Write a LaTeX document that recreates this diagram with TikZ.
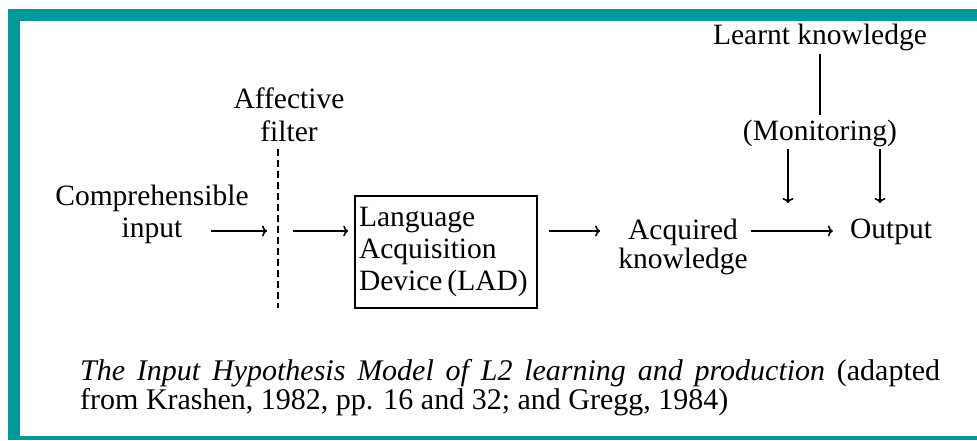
\documentclass[tikz,border=0pt]{standalone}
\usepackage{fontspec}
\setmainfont{Liberation Serif}
\usetikzlibrary{arrows.meta}
\definecolor{frameteal}{RGB}{0,153,153}
\begin{document}
\begin{tikzpicture}[x=1pt,y=-1pt,
  lbl/.style={inner sep=0pt, font=\fontsize{29.5}{32}\selectfont},
  caplbl/.style={inner sep=0pt, anchor=base west, font=\fontsize{30}{30}\selectfont},
  arr/.style={line width=1.6pt, -{To[length=5pt,width=11pt]}},
  conn/.style={line width=1.6pt},
  ]
\useasboundingbox (0,0) rectangle (977,440);
% teal frame
\fill[frameteal] (8,9) rectangle (977,21);
\fill[frameteal] (8,9) rectangle (20,440);
\fill[frameteal] (8,436) rectangle (977,440);

% nodes
\node[lbl, anchor=base] (learnt) at (820,44) {Learnt knowledge};
\node[lbl, anchor=base] (mon) at (820,140) {(Monitoring)};
\node[lbl, anchor=base] (out) at (891,238) {Output};
\node[lbl, anchor=north, align=center, font=\fontsize{29.5}{29}\selectfont] (acq) at (683,219) {Acquired\\knowledge};
\node[draw, line width=1.6pt, text width=174pt, inner sep=4pt, minimum height=112pt, align=left,
      font=\fontsize{29.5}{32}\selectfont] (lad) at (446,252) {Language\\Acquisition\\\mbox{Device\,(LAD)}};
\node[lbl, anchor=north, align=center] (cin) at (152,185) {Comprehensible\\input};
\node[lbl, anchor=north, align=center, font=\fontsize{29.5}{33}\selectfont] (aff) at (289,88) {Affective\\filter};

% coordinates for free ends
\coordinate (ftop) at (278,149);
\coordinate (fbot) at (278,308);
\coordinate (a1s) at (211,231);
\coordinate (a1e) at (267,231);
\coordinate (a2s) at (293,231);
\coordinate (ml) at (788,203);
\coordinate (mr) at (880,203);

% affective filter dashed line
\draw[line width=1.6pt, dash pattern=on 7pt off 4pt] (ftop) -- (fbot);

% connectors
\draw[arr, shorten >=6pt] (a2s) -- (lad.west |- a2s);
\draw[arr] (a1s) -- (a1e);
\draw[arr, shorten <=11pt, shorten >=18pt] (lad.east |- a2s) -- (acq.west |- a2s);
\draw[arr, shorten <=3pt, shorten >=17pt] (acq.east |- a2s) -- (out.west |- a2s);
\draw[conn, shorten <=3pt, shorten >=4pt] (learnt.south) -- (mon.north);
\draw[arr, shorten <=2pt] (mon.south -| ml) -- (ml);
\draw[arr, shorten <=2pt] (mon.south -| mr) -- (mr);

% caption
\node[caplbl] (cap1) at (80,380) {\makebox[860pt][s]{\textit{The Input Hypothesis Model of L2 learning and production} (adapted}};
\node[caplbl] (cap2) at (80,409) {from Krashen, 1982, pp. 16 and 32; and Gregg, 1984)};
\end{tikzpicture}
\end{document}
